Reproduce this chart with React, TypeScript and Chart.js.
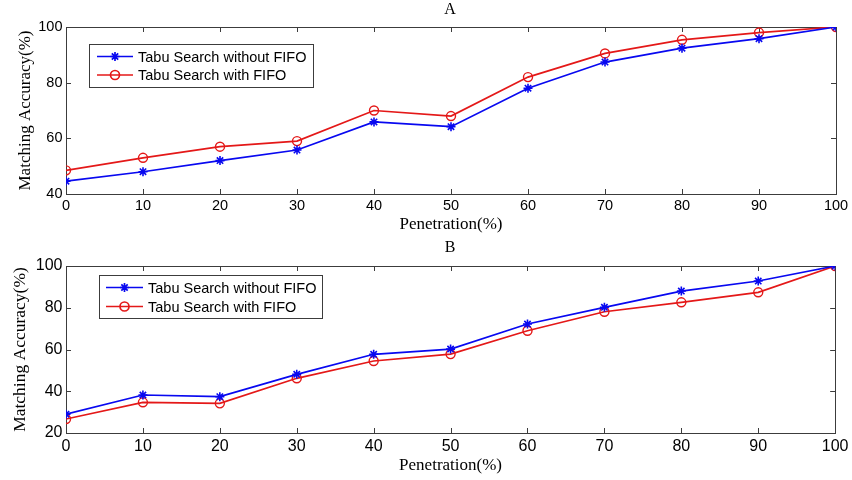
import React, { useEffect, useRef } from "react";
import { Chart, registerables } from "chart.js";

Chart.register(...registerables);

const penetration = [0, 10, 20, 30, 40, 50, 60, 70, 80, 90, 100];
const aWithout = [44.6, 48, 52, 55.8, 65.9, 64.2, 78, 87.4, 92.4, 95.8, 100];
const aWith = [48.5, 53, 57, 59, 70, 68, 82, 90.5, 95.4, 98, 100];
const bWithout = [29, 38.2, 37.4, 48.1, 57.7, 60.2, 72.2, 80.2, 88, 92.8, 100];
const bWith = [26.7, 34.7, 34.2, 46.2, 54.5, 57.8, 69, 78.1, 82.6, 87.4, 100];
const seriesNames = ["Tabu Search without FIFO", "Tabu Search with FIFO"];
const xTitle = "Penetration(%)";
const yTitle = "Matching Accuracy(%)";

const BLUE = "rgb(8,8,240)";
const RED = "rgb(228,24,24)";
const AXIS = "#3c3c3c";

type PanelCfg = {
  title: string;
  without: number[];
  withF: number[];
  yMin: number;
  padTop: number;
  xAxisH: number;
  tickSize: number;
  yTitleSize: number;
  yTitlePad: number;
  xTitlePad: number;
  titleY: number;
  legend: { x: number; y: number; w: number; h: number; row1: number; row2: number; lx0: number; lx1: number; tx: number };
};

const boxPlugin = {
  id: "matlabBox",
  beforeDatasetsDraw(chart: any) {
    const { ctx, chartArea: a, scales } = chart;
    ctx.save();
    ctx.strokeStyle = AXIS;
    ctx.lineWidth = 1;
    ctx.strokeRect(Math.round(a.left) + 0.5, Math.round(a.top) + 0.5, Math.round(a.right - a.left), Math.round(a.bottom - a.top));
    const tl = 5;
    ctx.beginPath();
    scales.x.ticks.forEach((t: any) => {
      const px = Math.round(scales.x.getPixelForValue(t.value)) + 0.5;
      ctx.moveTo(px, a.bottom);
      ctx.lineTo(px, a.bottom - tl);
      ctx.moveTo(px, a.top);
      ctx.lineTo(px, a.top + tl);
    });
    scales.y.ticks.forEach((t: any) => {
      const py = Math.round(scales.y.getPixelForValue(t.value)) + 0.5;
      ctx.moveTo(a.left, py);
      ctx.lineTo(a.left + tl, py);
      ctx.moveTo(a.right, py);
      ctx.lineTo(a.right - tl, py);
    });
    ctx.stroke();
    ctx.restore();
  },
};

const decorPlugin = {
  id: "decor",
  afterDraw(chart: any, _args: any, opts: any) {
    const { ctx } = chart;
    const L = opts.legend;
    ctx.save();
    ctx.fillStyle = "#000";
    ctx.font = "16px 'Liberation Serif', 'Times New Roman', serif";
    ctx.textAlign = "center";
    ctx.textBaseline = "middle";
    ctx.fillText(opts.title, 450, opts.titleY);
    ctx.fillStyle = "#fff";
    ctx.fillRect(L.x, L.y, L.w, L.h);
    ctx.strokeStyle = AXIS;
    ctx.lineWidth = 1;
    ctx.strokeRect(L.x + 0.5, L.y + 0.5, L.w, L.h);
    const rows = [
      { y: L.row1, color: BLUE, style: "star", name: seriesNames[0] },
      { y: L.row2, color: RED, style: "circle", name: seriesNames[1] },
    ];
    rows.forEach((r) => {
      ctx.strokeStyle = r.color;
      ctx.lineWidth = 1.7;
      ctx.beginPath();
      ctx.moveTo(L.lx0, r.y);
      ctx.lineTo(L.lx1, r.y);
      ctx.stroke();
      const mx = (L.lx0 + L.lx1) / 2;
      ctx.beginPath();
      if (r.style === "circle") {
        ctx.arc(mx, r.y, 4.5, 0, Math.PI * 2);
      } else {
        const s = 4.5;
        const d = s * 0.7071;
        ctx.moveTo(mx - s, r.y); ctx.lineTo(mx + s, r.y);
        ctx.moveTo(mx, r.y - s); ctx.lineTo(mx, r.y + s);
        ctx.moveTo(mx - d, r.y - d); ctx.lineTo(mx + d, r.y + d);
        ctx.moveTo(mx - d, r.y + d); ctx.lineTo(mx + d, r.y - d);
      }
      ctx.stroke();
      ctx.fillStyle = "#000";
      ctx.font = "14.5px 'Liberation Sans', Arial, sans-serif";
      ctx.textAlign = "left";
      ctx.textBaseline = "middle";
      ctx.fillText(r.name, L.tx, r.y + 1);
    });
    ctx.restore();
  },
};

function Panel({ cfg }: { cfg: PanelCfg }) {
  const ref = useRef<HTMLCanvasElement>(null);
  useEffect(() => {
    if (!ref.current) return;
    const tickFont = { family: "'Liberation Sans', Arial, sans-serif", size: cfg.tickSize };
    const chart = new Chart(ref.current, {
      type: "line",
      data: {
        datasets: [
          {
            label: seriesNames[0],
            data: penetration.map((x, i) => ({ x, y: cfg.without[i] })),
            borderColor: BLUE,
            backgroundColor: "transparent",
            borderWidth: 1.7,
            pointStyle: "star",
            pointRadius: 4.5,
            pointBorderWidth: 1.6,
            pointBorderColor: BLUE,
            pointBackgroundColor: "transparent",
            tension: 0,
          },
          {
            label: seriesNames[1],
            data: penetration.map((x, i) => ({ x, y: cfg.withF[i] })),
            borderColor: RED,
            backgroundColor: "transparent",
            borderWidth: 1.7,
            pointStyle: "circle",
            pointRadius: 4.5,
            pointBorderWidth: 1.4,
            pointBorderColor: RED,
            pointBackgroundColor: "transparent",
            tension: 0,
          },
        ],
      },
      options: {
        animation: false,
        responsive: false,
        maintainAspectRatio: false,
        layout: { padding: { left: 0, right: 16, top: cfg.padTop, bottom: 0 } },
        plugins: {
          legend: { display: false },
          tooltip: { enabled: false },
          title: { display: false },
          decor: { title: cfg.title, titleY: cfg.titleY, legend: cfg.legend },
        } as any,
        scales: {
          x: {
            type: "linear",
            min: 0,
            max: 100,
            ticks: { stepSize: 10, font: tickFont, color: "#000", padding: 3.5, maxRotation: 0 },
            grid: { display: false, drawTicks: false },
            border: { display: false },
            title: {
              display: true,
              text: xTitle,
              color: "#000",
              font: { family: "'Liberation Serif', 'Times New Roman', serif", size: 17 },
              padding: { top: 0, bottom: cfg.xTitlePad },
            },
            afterFit: (s: any) => {
              s.height = cfg.xAxisH;
            },
          },
          y: {
            type: "linear",
            min: cfg.yMin,
            max: 100,
            ticks: { stepSize: 20, font: tickFont, color: "#000", padding: 3.5 },
            grid: { display: false, drawTicks: false },
            border: { display: false },
            title: {
              display: true,
              text: yTitle,
              color: "#000",
              font: { family: "'Liberation Serif', 'Times New Roman', serif", size: cfg.yTitleSize },
              padding: { top: cfg.yTitlePad, bottom: 0 },
            },
            afterFit: (s: any) => {
              s.width = 66;
            },
          },
        },
      },
      plugins: [boxPlugin, decorPlugin],
    });
    return () => chart.destroy();
  }, [cfg]);
  return (
    <div style={{ width: 852, height: 240, position: "relative" }}>
      <canvas ref={ref} width={852} height={240} style={{ display: "block", width: 852, height: 240 }} />
    </div>
  );
}

const cfgA: PanelCfg = {
  title: "A",
  without: aWithout,
  withF: aWith,
  yMin: 40,
  padTop: 27,
  xAxisH: 46,
  tickSize: 14.5,
  yTitleSize: 17,
  yTitlePad: 15,
  xTitlePad: 5.5,
  titleY: 10,
  legend: { x: 89, y: 44, w: 224, h: 43, row1: 56.5, row2: 75, lx0: 97, lx1: 133, tx: 138 },
};

const cfgB: PanelCfg = {
  title: "B",
  without: bWithout,
  withF: bWith,
  yMin: 20,
  padTop: 26,
  xAxisH: 47,
  tickSize: 16,
  yTitleSize: 17.5,
  yTitlePad: 10,
  xTitlePad: 4.5,
  titleY: 7.5,
  legend: { x: 99, y: 35, w: 223, h: 43, row1: 47.5, row2: 66.5, lx0: 106, lx1: 143, tx: 148 },
};

export default function App() {
  return (
    <div style={{ position: "absolute", left: 0, top: 0, width: 852, height: 480, background: "#fff" }}>
      <Panel cfg={cfgA} />
      <Panel cfg={cfgB} />
    </div>
  );
}
